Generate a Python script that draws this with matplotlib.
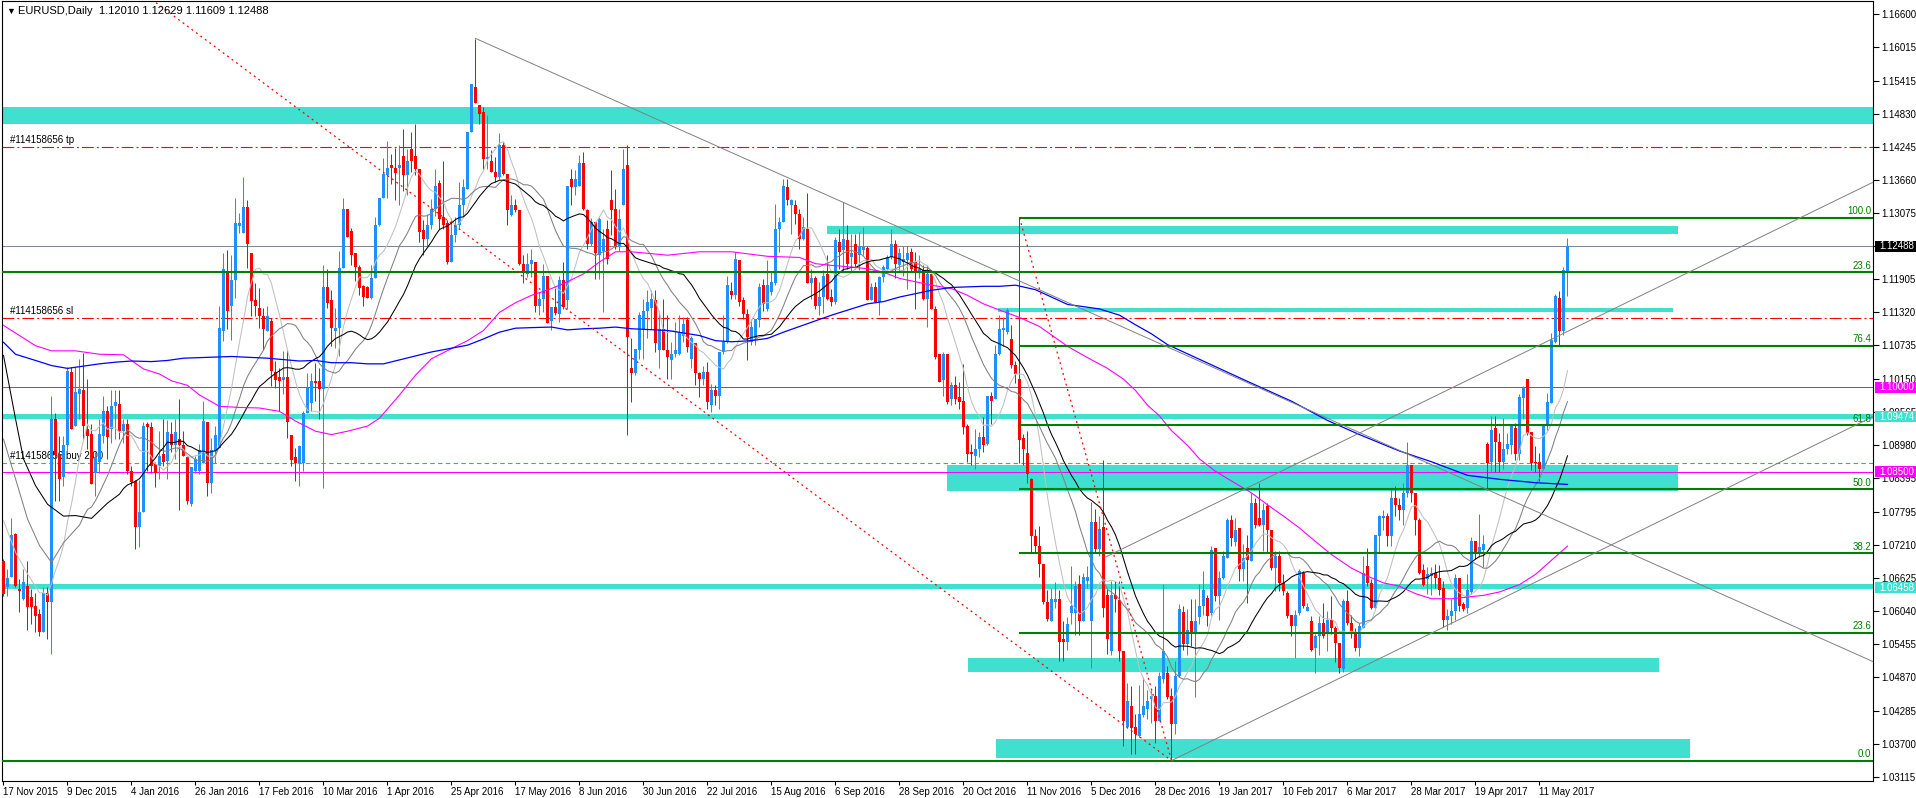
import numpy as np
import pandas as pd
import matplotlib
matplotlib.use("Agg")
import matplotlib.pyplot as plt
import matplotlib.transforms as mtrans
from matplotlib.patches import Rectangle

plt.rcParams["font.family"] = ["Liberation Sans", "DejaVu Sans"]
plt.rcParams["lines.scale_dashes"] = False

# EURUSD daily candles, prices in 1e-4 units, bar 0 = 17 Nov 2015
OPEN = [
    10693, 10646, 10664, 10740, 10643, 10626, 10649, 10629, 10614, 10599,
    10567, 10637, 10620, 10944, 10880, 10841, 10897, 11026, 10932, 10988,
    10994, 10926, 10917, 10849, 10867, 10914, 10958, 10926, 10967, 10970,
    10923, 10935, 10852, 10834, 10752, 10779, 10934, 10930, 10864, 10861,
    10882, 10870, 10917, 10897, 10909, 10897, 10876, 10793, 10852, 10852,
    10866, 10938, 10831, 10887, 10892, 11099, 11202, 11143, 11190, 11284,
    11272, 11319, 11237, 11153, 11140, 11125, 11099, 11116, 11027, 11017,
    11013, 11017, 10916, 10876, 10866, 10866, 10954, 10972, 11011, 11010,
    10997, 11176, 11153, 11099, 11104, 11211, 11314, 11276, 11237, 11213,
    11178, 11176, 11158, 11193, 11287, 11334, 11375, 11393, 11387, 11387,
    11409, 11374, 11420, 11409, 11386, 11277, 11262, 11286, 11315, 11361,
    11300, 11289, 11221, 11269, 11286, 11321, 11350, 11450, 11530, 11498,
    11486, 11403, 11400, 11380, 11371, 11427, 11376, 11304, 11321, 11312,
    11218, 11200, 11218, 11221, 11143, 11156, 11196, 11116, 11141, 11129,
    11190, 11153, 11368, 11353, 11356, 11395, 11312, 11253, 11292, 11233,
    11240, 11280, 11330, 11315, 11247, 11321, 11392, 11033, 11024, 11065,
    11103, 11135, 11140, 11153, 11065, 11103, 11065, 11047, 11059, 11059,
    11091, 11118, 11050, 11077, 11024, 11015, 11027, 10968, 10994, 10985,
    11062, 11080, 11169, 11163, 11224, 11153, 11129, 11080, 11086, 11118,
    11180, 11138, 11168, 11183, 11280, 11292, 11353, 11321, 11321, 11306,
    11262, 11280, 11183, 11192, 11144, 11159, 11200, 11159, 11150, 11256,
    11242, 11259, 11230, 11253, 11233, 11242, 11245, 11153, 11177, 11150,
    11194, 11209, 11230, 11253, 11215, 11221, 11224, 11239, 11221, 11203,
    11206, 11156, 11200, 11138, 11059, 11012, 11059, 10979, 11003, 10982,
    10976, 10932, 10885, 10879, 10891, 10912, 10900, 10985, 10979, 11059,
    11100, 11097, 11085, 11039, 11014, 10910, 10884, 10837, 10736, 10720,
    10687, 10620, 10587, 10620, 10626, 10555, 10549, 10600, 10600, 10652,
    10587, 10658, 10587, 10762, 10714, 10752, 10633, 10533, 10633, 10623,
    10533, 10400, 10436, 10400, 10384, 10420, 10432, 10449, 10455, 10410,
    10484, 10494, 10455, 10404, 10490, 10603, 10546, 10587, 10565, 10594,
    10613, 10627, 10601, 10716, 10630, 10663, 10698, 10766, 10727, 10751,
    10678, 10716, 10692, 10795, 10769, 10757, 10789, 10748, 10680, 10701,
    10654, 10636, 10598, 10577, 10601, 10672, 10605, 10586, 10539, 10560,
    10583, 10563, 10589, 10574, 10548, 10501, 10622, 10583, 10565, 10539,
    10574, 10683, 10654, 10610, 10736, 10769, 10772, 10736, 10804, 10792,
    10782, 10812, 10862, 10812, 10766, 10676, 10660, 10666, 10671, 10663,
    10645, 10589, 10595, 10604, 10663, 10617, 10610, 10638, 10728, 10709,
    10712, 10900, 10868, 10928, 10903, 10868, 10890, 10897, 10928, 10881,
    10980, 11015, 10921, 10868, 10868, 10856, 10931, 10971, 11080, 11158,
    11099, 11201,
]
HIGH = [
    10696, 10679, 10768, 10743, 10661, 10679, 10692, 10643, 10637, 10608,
    10646, 10646, 10985, 10955, 10914, 10914, 11035, 11035, 11035, 11050,
    11061, 11014, 10935, 10885, 10944, 10985, 10967, 10994, 10994, 10994,
    10944, 10944, 10861, 10835, 10835, 10938, 10938, 10938, 10868, 10923,
    10944, 10941, 10938, 10944, 10979, 10923, 10879, 10858, 10879, 10900,
    10975, 10938, 10910, 10931, 11143, 11237, 11243, 11234, 11334, 11308,
    11372, 11331, 11237, 11184, 11175, 11140, 11143, 11122, 11046, 11034,
    11063, 11066, 10916, 10892, 10898, 10957, 11025, 11025, 11043, 11034,
    11216, 11208, 11172, 11140, 11240, 11334, 11314, 11281, 11237, 11216,
    11181, 11178, 11216, 11300, 11334, 11405, 11434, 11411, 11423, 11428,
    11456, 11421, 11450, 11465, 11386, 11295, 11306, 11333, 11386, 11365,
    11400, 11295, 11298, 11300, 11362, 11368, 11450, 11536, 11615, 11498,
    11495, 11480, 11418, 11406, 11448, 11433, 11377, 11339, 11333, 11312,
    11233, 11236, 11244, 11221, 11168, 11217, 11196, 11141, 11177, 11197,
    11221, 11356, 11386, 11383, 11410, 11415, 11315, 11299, 11292, 11300,
    11280, 11295, 11383, 11350, 11315, 11421, 11427, 11086, 11068, 11132,
    11156, 11171, 11171, 11171, 11135, 11156, 11127, 11080, 11115, 11127,
    11124, 11124, 11091, 11077, 11027, 11038, 11044, 11006, 11003, 11062,
    11127, 11197, 11186, 11239, 11224, 11159, 11138, 11121, 11121, 11183,
    11191, 11224, 11203, 11323, 11300, 11368, 11368, 11333, 11330, 11315,
    11300, 11342, 11209, 11197, 11186, 11206, 11233, 11174, 11265, 11280,
    11327, 11286, 11271, 11271, 11274, 11283, 11250, 11183, 11186, 11197,
    11215, 11233, 11280, 11259, 11245, 11250, 11250, 11245, 11239, 11233,
    11215, 11215, 11200, 11144, 11059, 11062, 11059, 11009, 11020, 11009,
    11041, 10935, 10900, 10926, 10920, 10947, 10985, 10991, 11074, 11127,
    11123, 11139, 11110, 11046, 11299, 10917, 10923, 10839, 10749, 10755,
    10687, 10642, 10645, 10655, 10642, 10587, 10594, 10684, 10658, 10668,
    10671, 10684, 10797, 10785, 10772, 10871, 10645, 10658, 10658, 10658,
    10533, 10478, 10471, 10423, 10474, 10487, 10465, 10465, 10471, 10497,
    10652, 10507, 10468, 10516, 10617, 10613, 10607, 10626, 10626, 10652,
    10675, 10633, 10719, 10716, 10675, 10710, 10769, 10774, 10769, 10751,
    10722, 10739, 10813, 10804, 10831, 10795, 10795, 10748, 10710, 10710,
    10669, 10639, 10598, 10606, 10678, 10675, 10619, 10596, 10563, 10596,
    10619, 10604, 10630, 10577, 10548, 10625, 10642, 10598, 10574, 10583,
    10701, 10716, 10660, 10739, 10774, 10783, 10778, 10822, 10825, 10804,
    10831, 10903, 10862, 10812, 10769, 10688, 10682, 10682, 10688, 10685,
    10657, 10607, 10626, 10669, 10663, 10620, 10669, 10735, 10728, 10775,
    10738, 10903, 10949, 10949, 10918, 10946, 10918, 10934, 10937, 10987,
    11002, 11015, 10921, 10896, 10884, 10934, 10990, 11096, 11164, 11170,
    11212, 11263,
]
LOW = [
    10631, 10631, 10664, 10646, 10602, 10623, 10570, 10581, 10567, 10561,
    10567, 10555, 10528, 10799, 10799, 10826, 10885, 10926, 10932, 10944,
    10908, 10891, 10829, 10808, 10849, 10902, 10873, 10902, 10908, 10908,
    10902, 10846, 10826, 10714, 10717, 10779, 10852, 10849, 10823, 10838,
    10861, 10838, 10885, 10873, 10782, 10879, 10793, 10790, 10849, 10846,
    10866, 10807, 10813, 10866, 10892, 11081, 11102, 11084, 11158, 11272,
    11272, 11211, 11125, 11125, 11104, 11066, 11099, 11001, 10998, 10957,
    10987, 10910, 10860, 10834, 10825, 10851, 10954, 10957, 10975, 10943,
    10821, 11140, 11072, 11069, 11054, 11211, 11266, 11216, 11187, 11163,
    11143, 11158, 11155, 11193, 11284, 11334, 11334, 11358, 11331, 11322,
    11347, 11339, 11380, 11374, 11256, 11233, 11250, 11280, 11303, 11280,
    11280, 11218, 11221, 11256, 11280, 11303, 11350, 11450, 11501, 11465,
    11386, 11386, 11380, 11362, 11368, 11374, 11286, 11303, 11310, 11215,
    11183, 11194, 11194, 11132, 11127, 11132, 11114, 11100, 11127, 11115,
    11138, 11138, 11321, 11339, 11356, 11312, 11244, 11250, 11191, 11191,
    11132, 11218, 11268, 11244, 11241, 11321, 10915, 10973, 11021, 11050,
    11050, 11086, 11103, 11062, 11033, 11065, 11015, 11015, 11053, 11056,
    11080, 11062, 11033, 11003, 10982, 11003, 10962, 10956, 10968, 10962,
    11059, 11077, 11156, 11156, 11144, 11121, 11047, 11074, 11074, 11106,
    11135, 11135, 11162, 11180, 11239, 11292, 11321, 11271, 11288, 11244,
    11259, 11183, 11156, 11138, 11127, 11130, 11153, 11144, 11147, 11209,
    11203, 11209, 11203, 11209, 11206, 11233, 11153, 11153, 11150, 11127,
    11186, 11206, 11227, 11192, 11203, 11197, 11174, 11203, 11138, 11192,
    11153, 11106, 11138, 11050, 11009, 10985, 10970, 10968, 10970, 10962,
    10917, 10867, 10862, 10856, 10876, 10885, 10897, 10935, 10979, 11056,
    11072, 11094, 11033, 11007, 10865, 10862, 10830, 10707, 10707, 10665,
    10617, 10587, 10587, 10610, 10516, 10516, 10536, 10581, 10562, 10562,
    10587, 10645, 10503, 10707, 10701, 10594, 10529, 10526, 10603, 10516,
    10365, 10397, 10352, 10352, 10381, 10417, 10413, 10407, 10371, 10410,
    10478, 10449, 10342, 10387, 10487, 10536, 10526, 10542, 10452, 10581,
    10598, 10577, 10598, 10622, 10589, 10660, 10698, 10719, 10719, 10657,
    10657, 10619, 10692, 10751, 10754, 10710, 10707, 10677, 10639, 10639,
    10633, 10592, 10560, 10521, 10598, 10610, 10604, 10533, 10495, 10527,
    10557, 10533, 10563, 10515, 10495, 10497, 10580, 10557, 10533, 10524,
    10574, 10648, 10607, 10607, 10707, 10748, 10719, 10719, 10772, 10766,
    10756, 10806, 10797, 10738, 10669, 10648, 10635, 10632, 10645, 10632,
    10576, 10570, 10582, 10589, 10604, 10604, 10601, 10635, 10697, 10700,
    10682, 10819, 10850, 10850, 10850, 10856, 10881, 10881, 10872, 10872,
    10943, 10915, 10853, 10850, 10834, 10856, 10924, 10971, 11077, 11074,
    11092, 11161,
]
CLOSE = [
    10634, 10663, 10738, 10649, 10639, 10655, 10611, 10611, 10596, 10567,
    10637, 10620, 10944, 10880, 10838, 10897, 11029, 10926, 10991, 10997,
    10932, 10914, 10829, 10876, 10917, 10958, 10911, 10967, 10973, 10923,
    10934, 10852, 10832, 10752, 10779, 10932, 10929, 10861, 10849, 10879,
    10867, 10920, 10897, 10920, 10897, 10879, 10799, 10858, 10873, 10888,
    10940, 10831, 10889, 10916, 11104, 11208, 11134, 11190, 11290, 11290,
    11318, 11252, 11152, 11143, 11125, 11102, 11125, 11028, 11013, 11011,
    11017, 10938, 10872, 10866, 10895, 10954, 10998, 11011, 11007, 10996,
    11176, 11149, 11104, 11104, 11211, 11314, 11266, 11234, 11213, 11175,
    11159, 11158, 11193, 11287, 11334, 11377, 11387, 11387, 11378, 11393,
    11374, 11400, 11400, 11386, 11274, 11262, 11286, 11315, 11356, 11297,
    11286, 11221, 11269, 11286, 11321, 11353, 11450, 11536, 11501, 11483,
    11403, 11406, 11380, 11371, 11427, 11376, 11312, 11321, 11312, 11218,
    11203, 11218, 11224, 11143, 11156, 11196, 11114, 11141, 11131, 11190,
    11141, 11356, 11353, 11368, 11395, 11315, 11253, 11292, 11236, 11297,
    11262, 11227, 11312, 11247, 11297, 11386, 11088, 11024, 11068, 11127,
    11135, 11150, 11156, 11077, 11103, 11065, 11053, 11059, 11065, 11097,
    11112, 11071, 11086, 11024, 11015, 11027, 10973, 10994, 10985, 11062,
    11080, 11180, 11163, 11227, 11150, 11129, 11088, 11106, 11121, 11177,
    11147, 11180, 11186, 11280, 11292, 11356, 11330, 11330, 11306, 11262,
    11283, 11183, 11192, 11144, 11159, 11197, 11156, 11150, 11259, 11239,
    11262, 11218, 11236, 11218, 11250, 11247, 11153, 11177, 11150, 11194,
    11212, 11230, 11253, 11218, 11236, 11227, 11236, 11209, 11203, 11209,
    11156, 11200, 11138, 11053, 11009, 11059, 10973, 11003, 10979, 10973,
    10929, 10882, 10882, 10891, 10912, 10897, 10985, 10976, 11059, 11103,
    11104, 11136, 11039, 11023, 10907, 10891, 10846, 10736, 10720, 10687,
    10620, 10590, 10626, 10626, 10549, 10549, 10581, 10613, 10648, 10587,
    10665, 10665, 10762, 10714, 10749, 10610, 10555, 10633, 10626, 10533,
    10410, 10445, 10397, 10387, 10423, 10436, 10445, 10455, 10410, 10490,
    10533, 10452, 10404, 10490, 10607, 10546, 10571, 10568, 10587, 10613,
    10642, 10596, 10713, 10630, 10663, 10701, 10766, 10733, 10748, 10678,
    10698, 10695, 10795, 10757, 10757, 10783, 10748, 10680, 10701, 10654,
    10639, 10596, 10577, 10598, 10675, 10613, 10611, 10536, 10560, 10583,
    10560, 10589, 10574, 10548, 10504, 10622, 10583, 10565, 10539, 10577,
    10672, 10654, 10610, 10739, 10772, 10772, 10736, 10804, 10792, 10782,
    10812, 10862, 10812, 10766, 10672, 10651, 10669, 10672, 10663, 10642,
    10589, 10595, 10604, 10663, 10613, 10607, 10642, 10728, 10709, 10718,
    10722, 10865, 10924, 10903, 10868, 10890, 10900, 10931, 10881, 10983,
    10999, 10918, 10865, 10865, 10856, 10931, 10974, 11083, 11161, 11099,
    11206, 11249,
]

# slow moving averages (bar index, price)
MAGENTA_X = [0, 4, 8, 12, 18, 24, 30, 32, 35, 39, 42, 46, 49, 54, 59, 64, 69, 73, 78, 82,
             86, 91, 94, 99, 103, 107, 112, 116, 120, 124, 128, 132, 137, 141, 145, 149,
             153, 157, 166, 174, 182, 191, 199, 203, 207, 212, 216, 220, 224, 228, 232,
             237, 241, 245, 249, 254, 259, 266, 271, 276, 280, 283, 286, 289, 292, 296,
             299, 303, 307, 312, 316, 320, 324, 328, 332, 337, 341, 345, 349, 353, 357,
             362, 366, 370, 374, 379, 383, 387, 391]
MAGENTA_Y = [1.1109, 1.1091, 1.1073, 1.1064, 1.1064, 1.1058, 1.1057, 1.1047, 1.1032, 1.1023,
             1.1011, 1.1003, 1.0986, 1.0966, 1.0964, 1.0963, 1.0957, 1.0940, 1.0922, 1.0916,
             1.0922, 1.0931, 1.0945, 1.0986, 1.1021, 1.1050, 1.1068, 1.1082, 1.1100, 1.1132,
             1.1149, 1.1162, 1.1174, 1.1186, 1.1200, 1.1221, 1.1239, 1.1239, 1.1233, 1.1239,
             1.1239, 1.1231, 1.1229, 1.1218, 1.1215, 1.1212, 1.1209, 1.1203, 1.1192, 1.1186,
             1.1180, 1.1174, 1.1162, 1.1147, 1.1136, 1.1123, 1.1107, 1.1072, 1.1052, 1.1033,
             1.1014, 1.0994, 1.0968, 1.0949, 1.0923, 1.0897, 1.0873, 1.0851, 1.0834, 1.0813,
             1.0792, 1.0772, 1.0751, 1.0727, 1.0704, 1.0680, 1.0666, 1.0654, 1.0648, 1.0635,
             1.0626, 1.0626, 1.0629, 1.0632, 1.0638, 1.0651, 1.0669, 1.0694, 1.0719]
BLUE_X = [0, 3, 8, 12, 16, 20, 24, 28, 32, 37, 41, 45, 49, 57, 66, 74, 78, 82, 87, 91, 95,
          99, 107, 116, 120, 124, 128, 132, 137, 141, 145, 149, 153, 157, 166, 174, 178, 182,
          187, 191, 195, 199, 207, 216, 220, 224, 228, 232, 237, 241, 245, 249, 253, 258, 266,
          274, 279, 283, 287, 291, 295, 299, 311, 322, 331, 339, 349, 357, 366, 374, 383, 391]
BLUE_Y = [1.1079, 1.1058, 1.1047, 1.1038, 1.1033, 1.1037, 1.1041, 1.1044, 1.1046, 1.1045,
          1.1047, 1.1051, 1.1052, 1.1054, 1.1051, 1.1046, 1.1047, 1.1043, 1.1043, 1.1041,
          1.1041, 1.1048, 1.1062, 1.1074, 1.1085, 1.1097, 1.1104, 1.1105, 1.1106, 1.1101,
          1.1103, 1.1104, 1.1106, 1.1103, 1.1100, 1.1091, 1.1082, 1.1080, 1.1082, 1.1086,
          1.1097, 1.1107, 1.1127, 1.1147, 1.1151, 1.1159, 1.1165, 1.1171, 1.1176, 1.1177,
          1.1178, 1.1178, 1.1180, 1.1172, 1.1146, 1.1138, 1.1127, 1.1110, 1.1094, 1.1075,
          1.1062, 1.1049, 1.1010, 1.0975, 1.0941, 1.0916, 1.0887, 1.0868, 1.0844, 1.0837,
          1.0831, 1.0828]

# first bars of the fast averages (before the window is full)
SILVER_HEAD_X = [0, 3, 6]
SILVER_HEAD_Y = [1.0764, 1.0708, 1.0670]
GRAY_HEAD_X = [0, 3, 6, 9, 12, 15]
GRAY_HEAD_Y = [1.0908, 1.0838, 1.0767, 1.0720, 1.0690, 1.0725]
BLACK_HEAD_X = [0, 3, 5, 8, 11, 15, 18, 22, 26]
BLACK_HEAD_Y = [1.1056, 1.0944, 1.0873, 1.0826, 1.0793, 1.0772, 1.0773, 1.0768, 1.0795]

DATE_LABELS = ["17 Nov 2015", "9 Dec 2015", "4 Jan 2016", "26 Jan 2016", "17 Feb 2016",
               "10 Mar 2016", "1 Apr 2016", "25 Apr 2016", "17 May 2016", "8 Jun 2016",
               "30 Jun 2016", "22 Jul 2016", "15 Aug 2016", "6 Sep 2016", "28 Sep 2016",
               "20 Oct 2016", "11 Nov 2016", "5 Dec 2016", "28 Dec 2016", "19 Jan 2017",
               "10 Feb 2017", "6 Mar 2017", "28 Mar 2017", "19 Apr 2017", "11 May 2017"]
PRICE_LABELS = ["1.16600", "1.16015", "1.15415", "1.14830", "1.14245", "1.13660", "1.13075",
                "1.12490", "1.11905", "1.11320", "1.10735", "1.10150", "1.09565", "1.08980",
                "1.08395", "1.07795", "1.07210", "1.06625", "1.06040", "1.05455", "1.04870",
                "1.04285", "1.03700", "1.03115"]

# chart objects
BANDS_FULL = [(1.1465, 1.1494), (1.0944, 1.0953), (1.0643, 1.0652)]
BANDS_PART = [(1.1270, 1.1285, 205.9, 418.6), (1.1132, 1.1139, 248.6, 417.4),
              (1.0817, 1.0862, 235.9, 418.6), (1.0497, 1.0521, 241.1, 413.9),
              (1.0345, 1.0378, 248.1, 421.6)]
FIB_LEVELS = ["100.0", "23.6", "76.4", "61.8", "50.0", "38.2", "23.6", "0.0"]
FIB_PRICES = [1.1299, 1.1203, 1.10727, 1.09327, 1.08195, 1.07063, 1.05663, 1.0340]
FIB_FULL = [False, True, False, False, False, False, False, True]
FIB_START = 254
TP, SL, BUY = 1.1424, 1.1122, 1.0865
MAGENTA_LEVELS = [1.1000, 1.0850]
LAST_PRICE = 1.12488
GRAY_TRENDS = [((118, 1.1616), (468, 1.0513)),
               ((275.6, 1.0700), (468, 1.1364)),
               ((292, 1.0340), (468, 1.0950))]
RED_DOTTED = [((37, 1.1685), (292, 1.0340)),
              ((254, 1.1299), (292, 1.0340))]
SIDE_BOXES = [("1.12488", 1.12488, "black"), ("1.10000", 1.1000, "#FF00FF"),
              ("1.09474", 1.09474, "#40E0D0"), ("1.08500", 1.0850, "#FF00FF"),
              ("1.06458", 1.06458, "#40E0D0")]

# ---- pixel geometry of the terminal window ----
FW, FH = 1916, 798
AX_L, AX_R, AX_T, AX_B = 2, 1873, 1, 781
PX_PER_UNIT = 5660.0
Y_166 = 13.5          # pixel row of 1.16600
BAR0, BAR_STEP = 3.5, 4.0

TURQ = "#40E0D0"
BULL, BEAR = "#1E90FF", "#FF0000"

y_top = 1.166 + (Y_166 - AX_T) / PX_PER_UNIT
y_bot = 1.166 - (AX_B - Y_166) / PX_PER_UNIT
x_left = (AX_L - BAR0) / BAR_STEP
x_right = (AX_R - BAR0) / BAR_STEP
px = 1.0 / PX_PER_UNIT

fig = plt.figure(figsize=(FW / 100, FH / 100), dpi=100)
fig.patch.set_facecolor("white")
ax = fig.add_axes([AX_L / FW, 1 - AX_B / FH, (AX_R - AX_L) / FW, (AX_B - AX_T) / FH])
ax.set_xlim(x_left, x_right)
ax.set_ylim(y_bot, y_top)
for s in ax.spines.values():
    s.set_linewidth(0.8)
    s.set_color("black")

o = np.array(OPEN) / 1e4
h = np.array(HIGH) / 1e4
l = np.array(LOW) / 1e4
c = np.array(CLOSE) / 1e4
n = len(c)
x = np.arange(n)

# background rectangles
for lo, hi in BANDS_FULL:
    ax.axhspan(lo, hi, color=TURQ, lw=0, zorder=1)
for lo, hi, x0, x1 in BANDS_PART:
    ax.add_patch(Rectangle((x0, lo), x1 - x0, hi - lo, color=TURQ, lw=0, zorder=1))

# candles
col = np.where(c >= o, BULL, BEAR)
ax.vlines(x, l, h, colors=col, lw=0.72, zorder=3)
body = np.maximum(np.abs(c - o), px)
ax.bar(x, body, width=0.75, bottom=np.minimum(o, c), color=col, lw=0, zorder=3)

# moving averages
close_s = pd.Series(c)
for period, hx, hy, color in [(10, SILVER_HEAD_X, SILVER_HEAD_Y, "#C0C0C0"),
                              (20, GRAY_HEAD_X, GRAY_HEAD_Y, "#808080"),
                              (30, BLACK_HEAD_X, BLACK_HEAD_Y, "black")]:
    sma = close_s.rolling(period).mean().to_numpy()
    xs = list(hx) + list(range(period - 1, n))
    ys = list(hy) + list(sma[period - 1:])
    ax.plot(xs, ys, color=color, lw=0.75, zorder=4)
ax.plot(MAGENTA_X, MAGENTA_Y, color="#FF00FF", lw=0.8, zorder=4)
ax.plot(BLUE_X, BLUE_Y, color="#0000FF", lw=0.9, zorder=4)

# horizontal objects
ax.axhline(LAST_PRICE, color="#778899", lw=0.75, zorder=2)
for p in MAGENTA_LEVELS:
    ax.axhline(p, color="#FF00FF", lw=0.75, zorder=2)
for p in (TP, SL):
    ax.axhline(p, color="red", lw=0.8, ls=(0, (8.5, 2.2, 1.4, 2.2)), zorder=2)
ax.axhline(BUY, color="#1ED01E", lw=0.8, ls=(0, (3.2, 2.4)), zorder=2)
for lab, p, full in zip(FIB_LEVELS, FIB_PRICES, FIB_FULL):
    ax.hlines(p, x_left if full else FIB_START, x_right, color="#008000", lw=1.5, zorder=5)
    ax.text(x_right - 0.5, p + 1.5 * px, lab, color="#008000", fontsize=7,
            ha="right", va="bottom", zorder=6)

for (x0, y0), (x1, y1) in GRAY_TRENDS:
    ax.plot([x0, x1], [y0, y1], color="#808080", lw=0.7, zorder=5)
for (x0, y0), (x1, y1) in RED_DOTTED:
    ax.plot([x0, x1], [y0, y1], color="red", lw=0.9, ls=(0, (1.4, 2.6)), zorder=5)

# order labels
lx = (10 - BAR0) / BAR_STEP
ax.text(lx, TP + 2 * px, "#114158656 tp", fontsize=7, ha="left", va="bottom", zorder=2)
ax.text(lx, SL + 2 * px, "#114158656 sl", fontsize=7, ha="left", va="bottom", zorder=2)
ax.text(lx, BUY + 2 * px, "#114158656 buy 2.00", fontsize=7, ha="left", va="bottom", zorder=2)

# price scale
ax.yaxis.tick_right()
ax.set_yticks([float(s) for s in PRICE_LABELS])
ax.set_yticklabels(PRICE_LABELS)
ax.tick_params(axis="y", length=4, width=0.8, pad=2, labelsize=7, direction="out")

# date scale
ax.set_xticks([16 * k for k in range(len(DATE_LABELS))])
ax.set_xticklabels(DATE_LABELS)
for t in ax.get_xticklabels():
    t.set_ha("left")
ax.tick_params(axis="x", length=3, width=0.8, pad=1, labelsize=7, direction="out")

# coloured price boxes on the scale
blend = mtrans.blended_transform_factory(ax.transAxes, ax.transData)
bx0 = (1875 - AX_L) / (AX_R - AX_L)
bx1 = (1916 - AX_L) / (AX_R - AX_L)
tx = (1879 - AX_L) / (AX_R - AX_L)
for lab, p, fc in SIDE_BOXES:
    ax.add_patch(Rectangle((bx0, p - 5.5 * px), bx1 - bx0, 11 * px, transform=blend,
                           facecolor=fc, edgecolor="none", clip_on=False, zorder=20))
    ax.text(tx, p, lab, transform=blend, color="white", fontsize=7, ha="left",
            va="center", clip_on=False, zorder=21)

# window title
fig.text(6 / FW, 1 - 11 / FH, "\u25bc", fontsize=6.5, va="center", ha="left")
fig.text(18 / FW, 1 - 11 / FH, "EURUSD,Daily  1.12010 1.12629 1.11609 1.12488",
         fontsize=8, va="center", ha="left")

fig.savefig("out.png", dpi=100)
